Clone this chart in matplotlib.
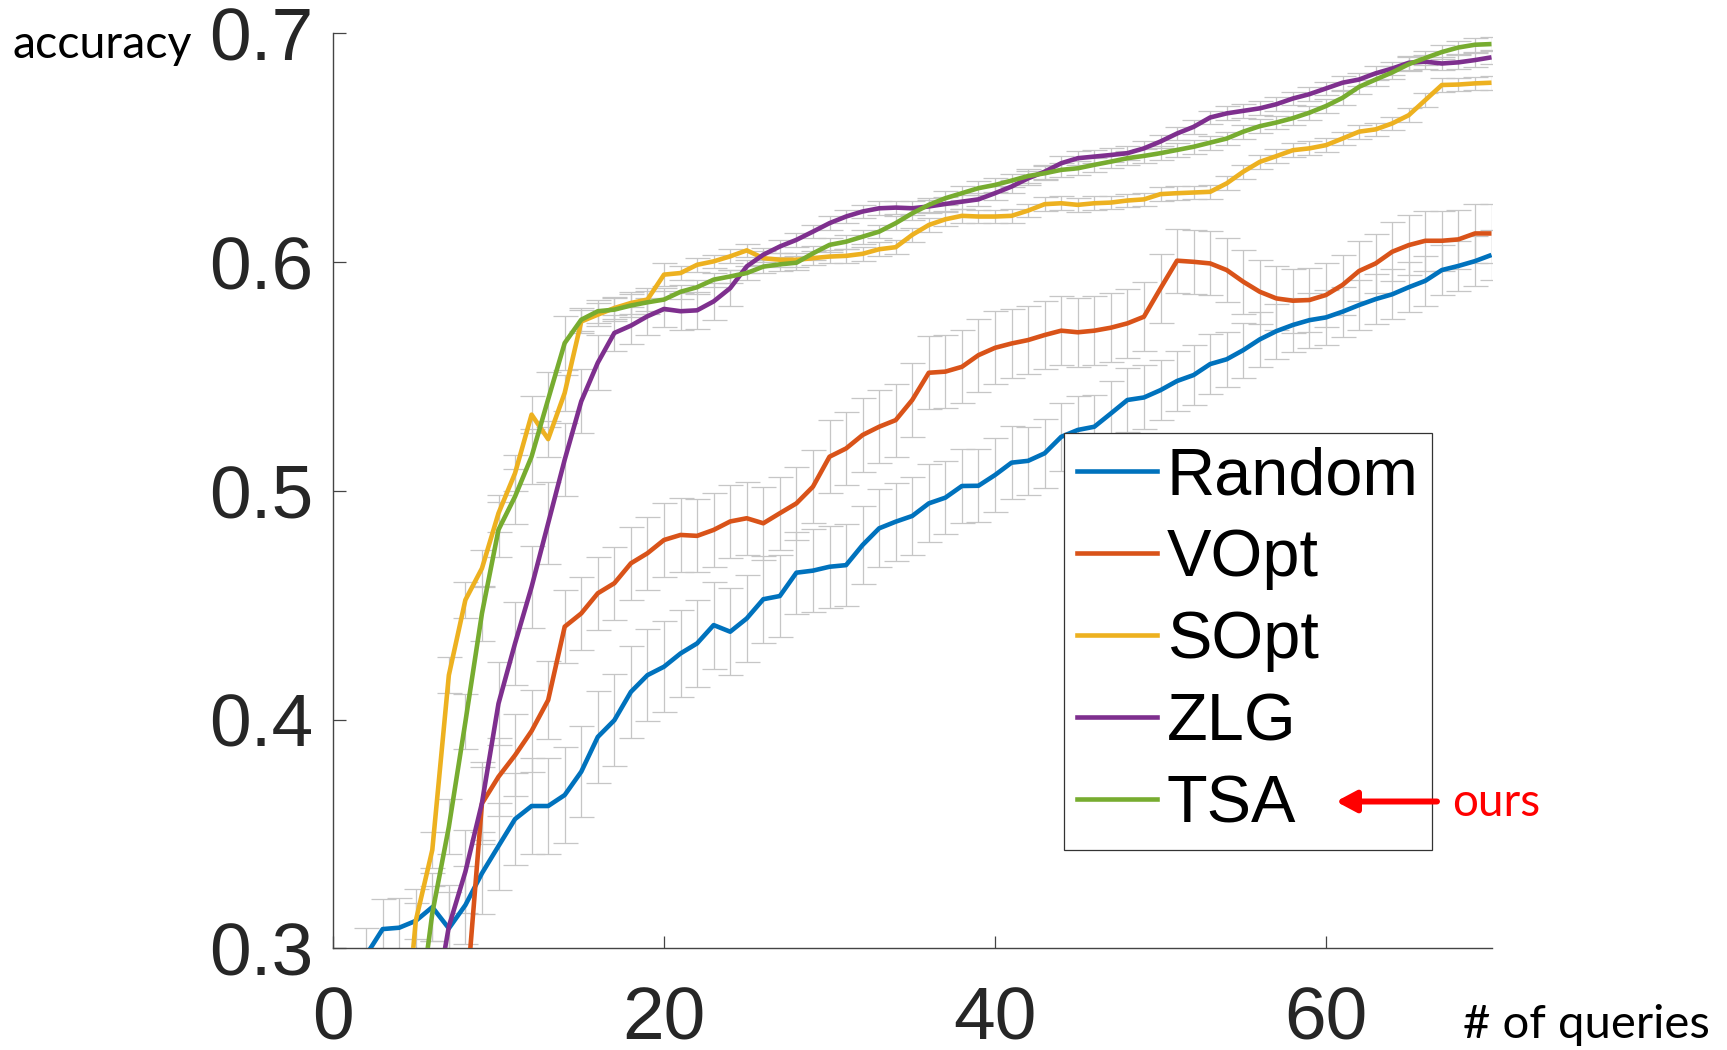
import numpy as np
import matplotlib
matplotlib.use("Agg")
import matplotlib.pyplot as plt
from matplotlib.lines import Line2D
from matplotlib.patches import FancyArrowPatch

# ---------------- data ----------------
series_names = ["Random", "VOpt", "SOpt", "ZLG", "TSA"]
series_colors = ["#0072BD", "#D95319", "#EDB120", "#7E2F8E", "#77AC30"]

random_start = 2
random_acc = [0.297, 0.3084, 0.309, 0.312, 0.318, 0.3087, 0.3189, 0.3328, 0.3447, 0.3565,
              0.3622, 0.3622, 0.367, 0.3772, 0.3924, 0.3997, 0.4121, 0.4194, 0.4231, 0.4289,
              0.4333, 0.4413, 0.4384, 0.4442, 0.4526, 0.4540, 0.4642, 0.4651, 0.4668, 0.4675,
              0.4763, 0.4836, 0.4865, 0.489, 0.4945, 0.497, 0.5021, 0.5022, 0.5069, 0.5123,
              0.5131, 0.5164, 0.5236, 0.5266, 0.528, 0.5338, 0.5397, 0.5408, 0.544, 0.548,
              0.5506, 0.5554, 0.5575, 0.5615, 0.5662, 0.5698, 0.5725, 0.5746, 0.5758, 0.5783,
              0.5812, 0.5838, 0.5859, 0.589, 0.5918, 0.5965, 0.5983, 0.6004, 0.6031]
random_err = [0.012, 0.013, 0.013, 0.014, 0.015, 0.016, 0.017,
              0.018, 0.019, 0.020, 0.021, 0.021, 0.021, 0.020, 0.020, 0.020, 0.020, 0.020, 0.020,
              0.019, 0.019, 0.019, 0.019, 0.019, 0.019, 0.018, 0.018, 0.018, 0.018, 0.018, 0.017,
              0.017, 0.017, 0.017,
              0.017, 0.016, 0.016, 0.016, 0.016, 0.016, 0.015, 0.015, 0.015, 0.015, 0.014, 0.014,
              0.014, 0.014, 0.013,
              0.013, 0.013, 0.013, 0.012, 0.012, 0.012, 0.012, 0.012, 0.012, 0.012, 0.011, 0.011,
              0.011, 0.011, 0.011, 0.011, 0.011, 0.011, 0.011, 0.011]

vopt_start = 8
vopt_acc = [0.273, 0.3633, 0.375, 0.3844, 0.3950, 0.4085, 0.4406, 0.4464, 0.4552, 0.4596,
            0.4683, 0.4727, 0.4785, 0.4807, 0.4803, 0.4829, 0.4866, 0.488, 0.4858, 0.4902,
            0.4945, 0.5018, 0.5149, 0.5185, 0.5244, 0.528, 0.5309, 0.5397, 0.5516, 0.5521,
            0.5542, 0.5593, 0.5625, 0.5644, 0.5659, 0.5681, 0.57, 0.5693, 0.57, 0.5713,
            0.5732, 0.5761, 0.5885, 0.6006, 0.6001, 0.5994, 0.5965, 0.5914, 0.587, 0.5841,
            0.5831, 0.5834, 0.5856, 0.59, 0.5961, 0.5994, 0.6045, 0.6074, 0.6093, 0.6093,
            0.6099, 0.6125, 0.6125]
vopt_err = [0.015, 0.016, 0.017, 0.018, 0.018, 0.017, 0.016,
            0.016, 0.016, 0.016, 0.016, 0.016, 0.016, 0.016, 0.016, 0.016, 0.016, 0.016, 0.016,
            0.016, 0.016, 0.016, 0.016,
            0.016, 0.016, 0.016, 0.016, 0.016, 0.016, 0.016, 0.016, 0.016, 0.016,
            0.015, 0.015, 0.015, 0.015, 0.015, 0.015, 0.015, 0.015, 0.015, 0.015,
            0.014, 0.014, 0.014, 0.014, 0.014, 0.014, 0.014, 0.014, 0.014, 0.014,
            0.013, 0.013, 0.013, 0.013, 0.013, 0.013, 0.013, 0.013, 0.013, 0.013]

sopt_start = 4
sopt_acc = [0.232, 0.312, 0.343, 0.4194, 0.4523, 0.4661, 0.4902, 0.5077, 0.5333, 0.5226,
            0.5428, 0.574, 0.577, 0.5799, 0.5821, 0.5836, 0.5945, 0.5952, 0.5988, 0.6003,
            0.6025, 0.6051, 0.6017, 0.601, 0.601, 0.6017, 0.6024, 0.6027, 0.6036, 0.6056,
            0.6065, 0.6119, 0.6162, 0.6187, 0.6202, 0.6199, 0.6199, 0.6202, 0.6225, 0.6253,
            0.6257, 0.625, 0.6257, 0.626, 0.6269, 0.6274, 0.6297, 0.6301, 0.6304, 0.6307,
            0.6344, 0.6395, 0.6438, 0.6463, 0.6489, 0.6497, 0.6511, 0.654, 0.657, 0.658,
            0.6606, 0.6642, 0.6708, 0.6774, 0.6776, 0.6781, 0.6784]
sopt_err = [0.008, 0.008, 0.008, 0.008, 0.008, 0.008, 0.008, 0.008, 0.008, 0.008, 0.008,
            0.005, 0.005, 0.005, 0.005, 0.005, 0.005,
            0.003, 0.003, 0.003, 0.003, 0.003, 0.003, 0.003, 0.003, 0.003, 0.003,
            0.003, 0.003, 0.003, 0.003, 0.003, 0.003, 0.003, 0.003, 0.003, 0.003,
            0.003, 0.003, 0.003, 0.003, 0.003, 0.003, 0.003, 0.003, 0.003, 0.003,
            0.003, 0.003, 0.003, 0.003, 0.003, 0.003, 0.003, 0.003, 0.003, 0.003,
            0.003, 0.003, 0.003, 0.003, 0.003, 0.003, 0.003, 0.003, 0.003, 0.003]

zlg_start = 6
zlg_acc = [0.268, 0.3095, 0.3335, 0.3635, 0.407, 0.4333, 0.458, 0.4858, 0.5136, 0.5391,
           0.5560, 0.569, 0.5722, 0.5763, 0.5795, 0.5785, 0.5789, 0.5828, 0.5886, 0.5981,
           0.6032, 0.6068, 0.6097, 0.6133, 0.617, 0.6199, 0.6221, 0.6235, 0.6238, 0.6235,
           0.6243, 0.6254, 0.6264, 0.6274, 0.6301, 0.633, 0.6366, 0.6395, 0.6432, 0.6454,
           0.6461, 0.6468, 0.6476, 0.6497, 0.6527, 0.6562, 0.6591, 0.6632, 0.665, 0.6661,
           0.6672, 0.669, 0.6715, 0.6734, 0.6759, 0.6784, 0.6798, 0.6825, 0.6846, 0.6871,
           0.6876, 0.6868, 0.6873, 0.6883, 0.6895]
zlg_err = [0.018, 0.018, 0.018, 0.018, 0.018, 0.018, 0.018, 0.018, 0.016, 0.014, 0.012,
           0.008, 0.008, 0.008, 0.008, 0.008, 0.008, 0.008, 0.008,
           0.003, 0.003, 0.003, 0.003, 0.003, 0.003, 0.003, 0.003, 0.003, 0.003,
           0.003, 0.003, 0.003, 0.003, 0.003, 0.003, 0.003, 0.003, 0.003, 0.003,
           0.003, 0.003, 0.003, 0.003, 0.003, 0.003, 0.003, 0.003, 0.003, 0.003,
           0.003, 0.003, 0.003, 0.003, 0.003, 0.003, 0.003, 0.003, 0.003, 0.003,
           0.003, 0.003, 0.003, 0.003, 0.003, 0.003]

tsa_start = 5
tsa_acc = [0.26, 0.3153, 0.3531, 0.3990, 0.4464, 0.483, 0.4975, 0.515, 0.540, 0.5646,
           0.5748, 0.5785, 0.5792, 0.581, 0.5824, 0.5836, 0.587, 0.589, 0.5923, 0.5937,
           0.5952, 0.598, 0.5990, 0.5997, 0.6038, 0.6075, 0.6089, 0.6111, 0.6133, 0.617,
           0.6213, 0.625, 0.6279, 0.6301, 0.6323, 0.6337, 0.6356, 0.6376, 0.6388, 0.6403,
           0.641, 0.6425, 0.6439, 0.6454, 0.6464, 0.6476, 0.649, 0.6504, 0.6522, 0.654,
           0.657, 0.6594, 0.661, 0.6629, 0.6653, 0.6682, 0.6718, 0.6766, 0.6798, 0.6829,
           0.6865, 0.6892, 0.6918, 0.6938, 0.695, 0.6953]
tsa_err = [0.012, 0.012, 0.012, 0.012, 0.012, 0.012, 0.012, 0.012, 0.012, 0.012,
           0.005, 0.005, 0.005, 0.005, 0.005, 0.005,
           0.003, 0.003, 0.003, 0.003, 0.003, 0.003, 0.003, 0.003, 0.003, 0.003,
           0.003, 0.003, 0.003, 0.003, 0.003, 0.003, 0.003, 0.003, 0.003, 0.003,
           0.003, 0.003, 0.003, 0.003, 0.003, 0.003, 0.003, 0.003, 0.003, 0.003,
           0.003, 0.003, 0.003, 0.003, 0.003, 0.003, 0.003, 0.003, 0.003, 0.003,
           0.003, 0.003, 0.003, 0.003, 0.003, 0.003, 0.003, 0.003, 0.003, 0.003]

x_ticks = [0, 20, 40, 60]
y_ticks = [0.3, 0.4, 0.5, 0.6, 0.7]
y_tick_labels = ["0.3", "0.4", "0.5", "0.6", "0.7"]
x_label = "# of queries"
y_label = "accuracy"
note_text = "ours"

# ---------------- figure ----------------
W, H, DPI = 1727, 1050, 100
fig = plt.figure(figsize=(W / DPI, H / DPI), dpi=DPI)
ax = fig.add_axes([333 / W, 1 - 948.3 / H, (1491.5 - 333) / W, (948.3 - 33.3) / H])

starts = [random_start, vopt_start, sopt_start, zlg_start, tsa_start]
accs = [random_acc, vopt_acc, sopt_acc, zlg_acc, tsa_acc]
errs = [random_err, vopt_err, sopt_err, zlg_err, tsa_err]

for s, a, e in zip(starts, accs, errs):
    xs = np.arange(s, s + len(a))
    ax.errorbar(xs, a, yerr=e, fmt="none", ecolor="#c6c6c6", elinewidth=0.9,
                capsize=9, capthick=0.9, zorder=1)

LW = 3.3
handles = []
for name, col, s, a in zip(series_names, series_colors, starts, accs):
    xs = np.arange(s, s + len(a))
    ax.plot(xs, a, color=col, lw=LW, zorder=3, solid_joinstyle="round",
            solid_capstyle="butt", label=name)
    handles.append(Line2D([], [], color=col, lw=LW))

ax.set_xlim(0, 70)
ax.set_ylim(0.3, 0.7)
ax.set_xticks(x_ticks)
ax.set_xticklabels([str(t) for t in x_ticks])
ax.set_yticks(y_ticks)
ax.set_yticklabels(y_tick_labels)

for sp in ["top", "right"]:
    ax.spines[sp].set_visible(False)
for sp in ["left", "bottom"]:
    ax.spines[sp].set_color("#444444")
    ax.spines[sp].set_linewidth(1.0)

ax.tick_params(direction="in", length=9, width=0.9, color="#444444",
               labelsize=54, labelcolor="#262626")
ax.tick_params(axis="y", pad=14)
ax.tick_params(axis="x", pad=27)
for lab in ax.get_xticklabels() + ax.get_yticklabels():
    lab.set_fontfamily("Liberation Sans")

# labels in humanist font
fig.text(13 / W, 1 - 58 / H, y_label, fontfamily="Lato", fontsize=33.5,
         ha="left", va="baseline", color="black")
fig.text(1463 / W, 1 - 1038 / H, x_label, fontfamily="Lato", fontsize=34,
         ha="left", va="baseline", color="black")
fig.text(1452 / W, 1 - 815.6 / H, note_text, fontfamily="Lato", fontsize=33,
         ha="left", va="baseline", color="#ff0000")

# legend
leg = fig.legend(handles, series_names, loc="upper left",
                 bbox_to_anchor=(1064 / W, 1 - 433 / H), bbox_transform=fig.transFigure,
                 frameon=True, fancybox=False, framealpha=1, edgecolor="#333333",
                 prop={"family": "Liberation Sans", "size": 48},
                 handlelength=1.2, handletextpad=0.14, labelspacing=0.30,
                 borderpad=0.2, borderaxespad=0)
leg.get_frame().set_linewidth(0.9)

# red arrow pointing at TSA (drawn above the legend)
arrow = FancyArrowPatch((1437 / W, 1 - 801.5 / H), (1336 / W, 1 - 801.5 / H),
                        transform=fig.transFigure,
                        arrowstyle="-|>,head_length=0.6,head_width=0.32",
                        color="#ff0000", lw=4.3, shrinkA=0, shrinkB=0,
                        mutation_scale=20, zorder=20)
fig.add_artist(arrow)

fig.savefig("out.png", dpi=DPI)
